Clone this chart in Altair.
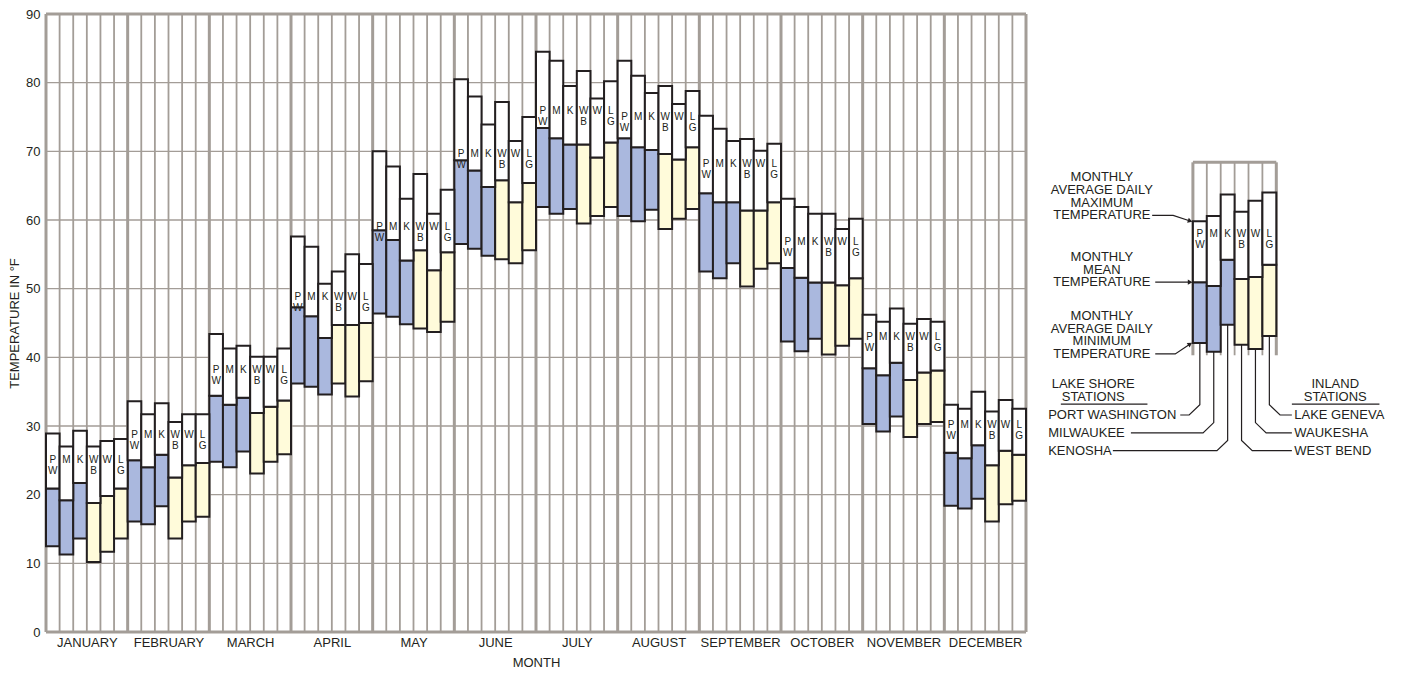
import json
import altair as alt
import pandas as pd

# ---------------- data ----------------
MONTHS = ["JANUARY", "FEBRUARY", "MARCH", "APRIL", "MAY", "JUNE", "JULY",
          "AUGUST", "SEPTEMBER", "OCTOBER", "NOVEMBER", "DECEMBER"]
STATIONS = ["PW", "M", "K", "WB", "W", "LG"]
STATION_NAMES = ["PORT WASHINGTON", "MILWAUKEE", "KENOSHA",
                 "WEST BEND", "WAUKESHA", "LAKE GENEVA"]
STATION_GROUP = ["lake", "lake", "lake", "inland", "inland", "inland"]
LABEL_LINE1 = ["P", "M", "K", "W", "W", "L"]
LABEL_LINE2 = ["W", "", "", "B", "", "G"]

TMAX = {
    "PW": [28.9, 33.6, 43.4, 57.6, 70.0, 80.5, 84.5, 83.2, 75.2, 63.1, 46.2, 33.1],
    "M":  [27.0, 31.7, 41.3, 56.1, 67.8, 78.0, 83.2, 81.0, 73.3, 61.9, 45.2, 32.5],
    "K":  [29.3, 33.3, 41.7, 50.7, 63.1, 73.9, 79.5, 78.5, 71.5, 60.9, 47.1, 35.0],
    "WB": [27.0, 30.6, 40.1, 52.5, 66.7, 77.2, 81.7, 79.5, 71.8, 60.9, 44.9, 32.1],
    "W":  [27.8, 31.7, 40.1, 55.0, 60.9, 71.5, 77.7, 76.9, 70.1, 58.7, 45.6, 33.8],
    "LG": [28.1, 31.7, 41.3, 53.6, 64.4, 75.0, 80.2, 78.8, 71.1, 60.2, 45.2, 32.5],
}
TMEAN = {
    "PW": [20.9, 25.0, 34.4, 47.3, 58.5, 68.7, 73.4, 71.9, 63.9, 53.0, 38.4, 26.1],
    "M":  [19.2, 24.0, 33.1, 46.0, 57.1, 67.2, 71.9, 70.6, 62.6, 51.6, 37.4, 25.3],
    "K":  [21.7, 25.8, 34.1, 42.8, 54.1, 64.8, 71.0, 70.2, 62.6, 50.9, 39.2, 27.2],
    "WB": [18.8, 22.5, 31.9, 44.7, 55.6, 65.8, 71.0, 69.6, 61.4, 50.9, 36.7, 24.3],
    "W":  [19.8, 24.3, 32.8, 44.7, 52.7, 62.6, 69.1, 68.8, 61.4, 50.5, 37.8, 26.4],
    "LG": [20.9, 24.6, 33.7, 45.0, 55.3, 65.4, 71.3, 70.6, 62.6, 51.5, 38.1, 25.8],
}
TMIN = {
    "PW": [12.5, 16.1, 24.8, 36.2, 46.4, 56.5, 61.9, 60.6, 52.5, 42.3, 30.3, 18.4],
    "M":  [11.3, 15.7, 24.0, 35.7, 45.9, 55.8, 60.9, 59.8, 51.5, 40.9, 29.2, 18.0],
    "K":  [13.6, 18.3, 26.3, 34.6, 44.8, 54.8, 61.6, 61.5, 53.7, 42.7, 31.4, 19.4],
    "WB": [10.2, 13.6, 23.1, 36.2, 44.2, 54.3, 59.5, 58.7, 50.3, 40.4, 28.4, 16.1],
    "W":  [11.7, 16.1, 24.8, 34.3, 43.7, 53.7, 60.6, 60.2, 52.9, 41.7, 30.3, 18.6],
    "LG": [13.6, 16.8, 25.9, 36.5, 45.2, 55.6, 61.9, 61.6, 53.7, 42.7, 30.6, 19.1],
}
Y_TICKS = list(range(0, 91, 10))

# explanation diagram (sample bars, same units as the main chart)
LEGEND_MAX = [59.8, 60.6, 63.7, 61.2, 62.8, 64.0]
LEGEND_MEAN = [50.95, 50.4, 54.2, 51.4, 51.7, 53.5]
LEGEND_MIN = [42.1, 40.8, 44.75, 41.85, 41.2, 43.1]
LEGEND_BOX = [40.3, 68.4]
LEGEND_GRID = 48.5
MAX_TEXT = ["MONTHLY", "AVERAGE DAILY", "MAXIMUM", "TEMPERATURE"]
MEAN_TEXT = ["MONTHLY", "MEAN", "TEMPERATURE"]
MIN_TEXT = ["MONTHLY", "AVERAGE DAILY", "MINIMUM", "TEMPERATURE"]
LAKE_HEAD = ["LAKE SHORE", "STATIONS"]
INLAND_HEAD = ["INLAND", "STATIONS"]

# ---------------- styles ----------------
INK = "#231f20"
GRID = "#a39d97"
BLUE = "#aab8de"
YELLOW = "#fffbda"
FONT = "Liberation Sans"
FILL_SCALE = alt.Scale(domain=["lake", "inland"], range=[BLUE, YELLOW])
PLOT_H = 618

# ---------------- main table ----------------
rows = []
for m, month in enumerate(MONTHS):
    lowest_top = min(TMAX[s][m] for s in STATIONS)
    for i, s in enumerate(STATIONS):
        rows.append(dict(month=month, station=s, x0=m * 6 + i, x1=m * 6 + i + 1,
                         tmax=TMAX[s][m], tmean=TMEAN[s][m], tmin=TMIN[s][m],
                         group=STATION_GROUP[i], l1=LABEL_LINE1[i], l2=LABEL_LINE2[i],
                         ref=lowest_top))
bars = pd.DataFrame(rows)
ncols = len(MONTHS) * len(STATIONS)
vlines = pd.DataFrame({"c": list(range(ncols + 1))})
vlines["w"] = [3.0 if c % 6 == 0 else 1.8 for c in vlines["c"]]
hlines = pd.DataFrame({"v": Y_TICKS})
hlines["w"] = [3.0 if v in (Y_TICKS[0], Y_TICKS[-1]) else 1.4 for v in hlines["v"]]

label_expr = json.dumps(MONTHS) + "[floor(datum.value / 6)]"
X_AXIS = alt.Axis(values=[6 * m + 3 for m in range(len(MONTHS))], labelExpr=label_expr,
                  grid=False, ticks=False, domain=False, labelFontSize=13, labelPadding=4,
                  labelColor=INK, title="MONTH", titleFontSize=13, titleFontWeight="normal",
                  titleColor=INK, titlePadding=7, labelFont=FONT, titleFont=FONT)
Y_AXIS = alt.Axis(values=Y_TICKS, grid=False, ticks=False, domain=False, labelFontSize=13,
                  labelPadding=6, labelColor=INK, title="TEMPERATURE IN °F", titleFontSize=13,
                  titleFontWeight="normal", titleColor=INK, titlePadding=4,
                  labelFont=FONT, titleFont=FONT)
XS = alt.Scale(domain=[0, ncols], nice=False, zero=False)
YS = alt.Scale(domain=[0, 90], nice=False, zero=False)


def mx(f):
    return alt.X(f, type="quantitative", scale=XS, axis=X_AXIS)


def my(f):
    return alt.Y(f, type="quantitative", scale=YS, axis=Y_AXIS)


h_rules = alt.Chart(hlines).mark_rule(color=GRID).encode(
    y=my("v"), strokeWidth=alt.StrokeWidth("w:Q", scale=None))
v_rules = alt.Chart(vlines).mark_rule(color=GRID).encode(
    x=mx("c"), strokeWidth=alt.StrokeWidth("w:Q", scale=None))
lower = alt.Chart(bars).mark_rect(stroke=INK, strokeWidth=2).encode(
    x=mx("x0"), x2="x1", y=my("tmin"), y2="tmean",
    fill=alt.Fill("group:N", scale=FILL_SCALE, legend=None))
upper = alt.Chart(bars).mark_rect(stroke=INK, strokeWidth=2, fill="white").encode(
    x=mx("x0"), x2="x1", y=my("tmean"), y2="tmax")
bar_base = alt.Chart(bars).transform_calculate(xc="datum.x0 + 0.5")
t1 = bar_base.mark_text(fontSize=10, font=FONT, color=INK, baseline="middle", dy=13).encode(
    x=mx("xc"), y=my("ref"), text="l1:N")
t2 = bar_base.mark_text(fontSize=10, font=FONT, color=INK, baseline="middle", dy=24).encode(
    x=mx("xc"), y=my("ref"), text="l2:N")

main = alt.layer(h_rules, v_rules, lower, upper, t1, t2).properties(width=980, height=PLOT_H)

# ---------------- explanation diagram ----------------
LEG_W = 348
LXS = alt.Scale(domain=[-11, -11 + LEG_W / 13.9], nice=False, zero=False)
LYS = alt.Scale(domain=[0, 90], nice=False, zero=False)


def lx(f):
    return alt.X(f, type="quantitative", scale=LXS, axis=None)


def ly(f):
    return alt.Y(f, type="quantitative", scale=LYS, axis=None)


leg = pd.DataFrame({
    "x0": list(range(6)), "x1": [i + 1 for i in range(6)],
    "tmax": LEGEND_MAX, "tmean": LEGEND_MEAN, "tmin": LEGEND_MIN,
    "group": STATION_GROUP, "l1": LABEL_LINE1, "l2": LABEL_LINE2,
})
leg["ref"] = min(LEGEND_MAX)
leg["xc"] = leg["x0"] + 0.5

lcols = pd.DataFrame({"c": list(range(7))})
lcols["w"] = [3.0 if c in (0, 6) else 1.8 for c in lcols["c"]]
lcols["y0"] = LEGEND_BOX[0]
lcols["y1"] = LEGEND_BOX[1]
lhor = pd.DataFrame({"x0": [0, 0], "x1": [6, 6], "y": [LEGEND_BOX[1], LEGEND_GRID], "w": [3.0, 1.4]})

l_v = alt.Chart(lcols).mark_rule(color=GRID).encode(
    x=lx("c"), y=ly("y0"), y2="y1", strokeWidth=alt.StrokeWidth("w:Q", scale=None))
l_h = alt.Chart(lhor).mark_rule(color=GRID).encode(
    x=lx("x0"), x2="x1", y=ly("y"), strokeWidth=alt.StrokeWidth("w:Q", scale=None))
l_lower = alt.Chart(leg).mark_rect(stroke=INK, strokeWidth=2).encode(
    x=lx("x0"), x2="x1", y=ly("tmin"), y2="tmean",
    fill=alt.Fill("group:N", scale=FILL_SCALE, legend=None))
l_upper = alt.Chart(leg).mark_rect(stroke=INK, strokeWidth=2, fill="white").encode(
    x=lx("x0"), x2="x1", y=ly("tmean"), y2="tmax")
l_t1 = alt.Chart(leg).mark_text(fontSize=10, font=FONT, color=INK, dy=13).encode(
    x=lx("xc"), y=ly("ref"), text="l1:N")
l_t2 = alt.Chart(leg).mark_text(fontSize=10, font=FONT, color=INK, dy=24).encode(
    x=lx("xc"), y=ly("ref"), text="l2:N")

# explanatory text blocks, anchored to the Port Washington sample bar
STEP = 1.84
BLOCK_X = -6.55
trows = []
for lines, last in [(MAX_TEXT, LEGEND_MAX[0] + 0.87), (MEAN_TEXT, LEGEND_MEAN[0]),
                    (MIN_TEXT, LEGEND_MIN[0] - 1.6)]:
    n = len(lines)
    for k, t in enumerate(lines):
        trows.append(dict(t=t, x=BLOCK_X, y=last + (n - 1 - k) * STEP))
for lines, cx in [(LAKE_HEAD, -7.17), (INLAND_HEAD, 10.24)]:
    for k, t in enumerate(lines):
        trows.append(dict(t=t, x=cx, y=36.1 - k * STEP))
ltext = pd.DataFrame(trows)
l_text = alt.Chart(ltext).mark_text(fontSize=13, font=FONT, color=INK, align="center",
                                    baseline="middle").encode(x=lx("x"), y=ly("y"), text="t:N")

unders = pd.DataFrame({"x0": [-9.5, 7.12], "x1": [-3.27, 13.42], "y": [33.2, 33.2]})
l_under = alt.Chart(unders).mark_rule(color=INK, strokeWidth=1.2).encode(
    x=lx("x0"), x2="x1", y=ly("y"))

# arrows pointing to max / mean / min
arows = []
arrow_defs = [
    ("max", [(-2.93, LEGEND_MAX[0] + 0.87), (-1.42, LEGEND_MAX[0] + 0.87), (-0.2, LEGEND_MAX[0] + 0.05)], 18),
    ("mean", [(-2.71, LEGEND_MEAN[0]), (-0.2, LEGEND_MEAN[0])], 0),
    ("min", [(-2.71, LEGEND_MIN[0] - 1.6), (-1.27, LEGEND_MIN[0] - 1.6), (-0.2, LEGEND_MIN[0] - 0.15)], 327),
]
heads = []
for name, pts, ang in arrow_defs:
    for k, (x, y) in enumerate(pts):
        arows.append(dict(a=name, o=k, x=x, y=y))
    heads.append(dict(x=pts[-1][0], y=pts[-1][1], ang=ang))
l_arrows = alt.Chart(pd.DataFrame(arows)).mark_line(color=INK, strokeWidth=1.2).encode(
    x=lx("x"), y=ly("y"), detail="a:N", order="o:Q")
l_heads = alt.Chart(pd.DataFrame(heads)).mark_point(shape="triangle-right", filled=True,
                                                     size=28, color=INK, opacity=1).encode(
    x=lx("x"), y=ly("y"), angle=alt.Angle("ang:Q", scale=None))

# leader lines from the bars to station names
ROW = [0, 1, 2, 2, 1, 0]
LEFT_ENDS = [-0.91, -4.46, -5.76]
RIGHT_END = 7.12
lrows, nrows = [], []
for i, name in enumerate(STATION_NAMES):
    r = ROW[i]
    yl = 31.6 - 2.6 * r
    side = -1 if STATION_GROUP[i] == "lake" else 1
    xe = LEFT_ENDS[r] if side < 0 else RIGHT_END
    pts = [(i + 0.5, LEGEND_MIN[i]), (i + 0.5, yl + 1.5), (i + 0.5 + side * 0.77, yl), (xe, yl)]
    for k, (x, y) in enumerate(pts):
        lrows.append(dict(s=name, o=k, x=x, y=y))
    nrows.append(dict(t=name, x=-10.41 if side < 0 else 7.29, y=yl))
l_leaders = alt.Chart(pd.DataFrame(lrows)).mark_line(color=INK, strokeWidth=1.2).encode(
    x=lx("x"), y=ly("y"), detail="s:N", order="o:Q")
l_names = alt.Chart(pd.DataFrame(nrows)).mark_text(fontSize=13, font=FONT, color=INK,
                                                   align="left", baseline="middle").encode(
    x=lx("x"), y=ly("y"), text="t:N")

legend = alt.layer(l_v, l_h, l_leaders, l_lower, l_upper, l_t1, l_t2, l_text, l_under,
                   l_arrows, l_heads, l_names).properties(width=LEG_W, height=PLOT_H)

chart = alt.hconcat(main, legend, spacing=14, bounds="flush").properties(
    padding={"left": 0, "top": 0, "right": 0, "bottom": 0}
).configure(font=FONT).configure_view(strokeWidth=0, stroke="transparent")

chart.save("out.html", embed_options={"renderer": "svg", "actions": False})
